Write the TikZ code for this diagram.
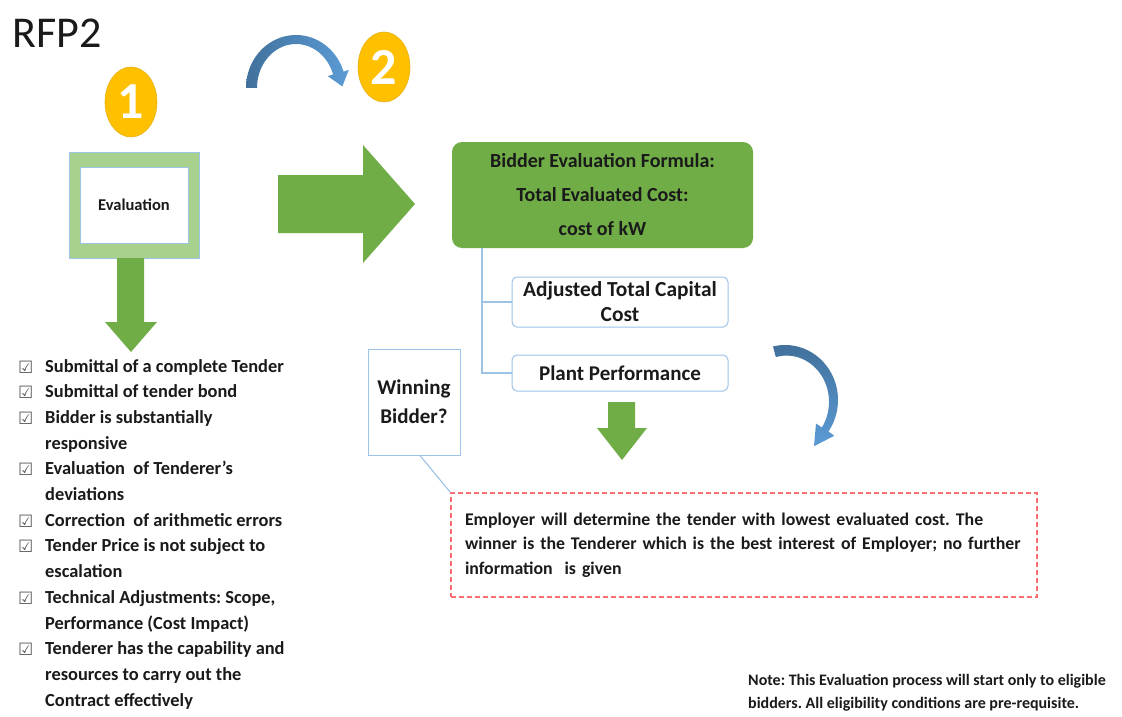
\documentclass[tikz,border=0pt]{standalone}
\usepackage{fontspec}
\setmainfont{Carlito}
\newfontfamily\symbolfont{DejaVu Sans}
\usetikzlibrary{shapes.geometric}
\frenchspacing

\definecolor{leaf}{HTML}{70AD47}
\definecolor{leaflight}{HTML}{A9D18E}
\definecolor{gold}{HTML}{FFC000}
\definecolor{edgeblue}{HTML}{9DC3E6}
\definecolor{arrowdark}{HTML}{41719C}
\definecolor{arrowlight}{HTML}{5B9BD5}
\definecolor{tenderred}{RGB}{255,110,115}
\definecolor{boxgray}{HTML}{5E5E5E}
\definecolor{ink}{HTML}{1A1A1A}

\tikzset{
  conn/.style={draw=edgeblue, line width=1.1pt},
  badge/.style={ellipse, fill=gold, draw=gold!80!gray, line width=0.6pt,
    minimum width=52pt, minimum height=70pt, inner sep=0pt},
  badgenum/.style={text=white, inner sep=0pt, font=\bfseries\fontsize{52}{52}\selectfont},
  outlinebox/.style={draw=edgeblue, line width=1pt, fill=white, text=ink},
  body/.style={text=ink, font=\bfseries\fontsize{18.4}{25.7}\selectfont},
}

\begin{document}
\begin{tikzpicture}[x=1pt,y=-1pt]
\path[use as bounding box, fill=white] (0,0) rectangle (1122,717);

% title
\node[anchor=base west, inner sep=0pt, text=ink, font=\fontsize{44}{44}\selectfont] (title) at (12,48) {RFP2};

% numbered badges
\node[badge, label={[badgenum]center:1}] (badgeone) at (131,102) {};
\node[badge, label={[badgenum]center:2}] (badgetwo) at (384,67) {};

% curved arrow leading to step 2
\shade[left color=arrowdark, right color=arrowlight]
  plot[domain=180:18, samples=40] ({296+50*cos(\x)},{88-53*sin(\x)})
  -- (348.8,69.9) -- (342.3,86.4) -- (327.8,76.1)
  -- plot[domain=18:180, samples=40] ({296+39*cos(\x)},{88-44*sin(\x)})
  -- cycle;

% curved arrow on the right
\shade[top color=arrowdark, bottom color=arrowlight]
  plot[domain=103:-35, samples=40] ({785+53*cos(\x)},{400-55*sin(\x)})
  -- (834.3,435.7) -- (814.0,446.2) -- (816.0,423.5)
  -- plot[domain=-35:103, samples=40] ({785+(41+4*(103-\x)/138)*cos(\x)},{400-(44+4*(103-\x)/138)*sin(\x)})
  -- cycle;

% evaluation frame
\node[draw=edgeblue, line width=0.8pt, fill=leaflight, minimum width=130pt,
  minimum height=106pt, inner sep=0pt] (evalframe) at (134,205) {};
\node[draw=edgeblue, line width=0.8pt, fill=white, minimum width=108pt,
  minimum height=76pt, text=ink, font=\bfseries\fontsize{16.5}{18}\selectfont] (evaluation) at (134,205) {Evaluation};

% big arrow to the formula
\fill[leaf] (278,175) -- (363,175) -- (363,145) -- (415,204) -- (363,263)
  -- (363,233) -- (278,233) -- cycle;

% arrow down to the checklist
\fill[leaf] (117,258) -- (144,258) -- (144,322) -- (157,322) -- (131,352)
  -- (105,322) -- (117,322) -- cycle;

% formula box
\node[fill=leaf, rounded corners=10pt, minimum width=301pt, minimum height=106pt,
  align=center, text=ink, font=\bfseries\fontsize{20}{34}\selectfont] (formula) at (602.5,195)
  {Bidder Evaluation Formula:\\Total Evaluated Cost:\\cost of kW};

% components
\node[outlinebox, rounded corners=5pt, minimum width=216pt, minimum height=50pt,
  align=center, font=\bfseries\fontsize{21.4}{25}\selectfont] (capital) at (620,302)
  {Adjusted Total Capital\\Cost};
\node[outlinebox, rounded corners=5pt, minimum width=216pt, minimum height=36pt,
  font=\bfseries\fontsize{21}{25}\selectfont] (plant) at (620,373) {Plant Performance};

\coordinate (trunk) at (482,248);
\draw[conn] (trunk) |- (capital.west);
\draw[conn] (trunk) |- (plant.west);

% winning bidder callout
\node[outlinebox, minimum width=92pt, minimum height=106pt, align=center,
  font=\bfseries\fontsize{21}{29}\selectfont] (winner) at (414,402) {Winning\\Bidder?};

% small arrow down
\fill[leaf] (608,402) -- (635,402) -- (635,428) -- (647,428) -- (622,460)
  -- (597,428) -- (608,428) -- cycle;

% outcome box
\node[draw=tenderred, dash pattern=on 5pt off 3pt, line width=1.2pt, minimum width=586pt,
  minimum height=104pt, inner xsep=14pt, text width=558pt, align=left, text=ink,
  font=\bfseries\fontsize{17.8}{24.5}\selectfont] (outcome) at (744,545)
  {Employer will determine the tender with lowest evaluated cost. The\\
   winner is the Tenderer which is the best interest of Employer; no further\\
   information~ is given};

\draw[conn] ([xshift=6pt]winner.south) -- (outcome.north west);

% footnote
\node[anchor=north west, inner sep=0pt, align=left, text=ink,
  font=\bfseries\fontsize{16}{23}\selectfont] (note) at (748,674)
  {Note: This Evaluation process will start only to eligible\\
   bidders. All eligibility conditions are pre-requisite.};

% checklist
\foreach \name/\k/\txt in {
  a/0/{Submittal of a complete Tender},
  b/1/{Submittal of tender bond},
  c/2/{Bidder is substantially\\responsive},
  d/4/{Evaluation~ of Tenderer’s\\deviations},
  e/6/{Correction~ of arithmetic errors},
  f/7/{Tender Price is not subject to\\escalation},
  g/9/{Technical Adjustments: Scope,\\Performance (Cost Impact)},
  h/11/{Tenderer has the capability and\\resources to carry out the\\Contract effectively}} {
  \node[anchor=base west, inner sep=0pt, text=boxgray,
    font=\symbolfont\fontsize{17}{17}\selectfont] (box\name) at (18,{373+25.7*\k}) {☑};
  \node[anchor=base west, inner sep=0pt, body] (item\name) at (45,{372+25.7*\k})
    {\parbox[t]{270pt}{\raggedright\txt}};
}
\end{tikzpicture}
\end{document}
